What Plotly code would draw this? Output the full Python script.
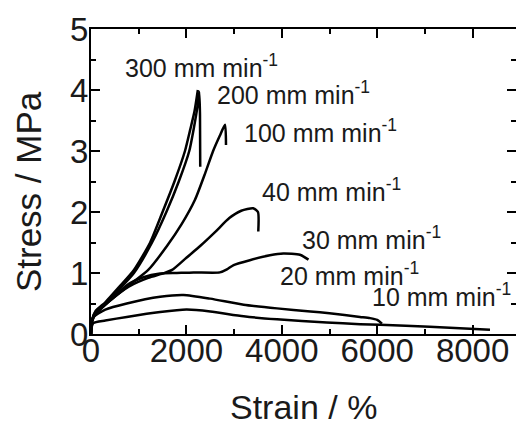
import plotly.graph_objects as go

# strain (%) / stress (MPa) for each crosshead speed
s300_x = [0, 20, 100, 300, 600, 900, 1240, 1500, 1750, 1970, 2080, 2170, 2240]
s300_y = [0, 0.22, 0.38, 0.52, 0.78, 1.05, 1.5, 2.0, 2.5, 3.0, 3.35, 3.65, 4.0]

s200_x = [0, 20, 100, 300, 600, 900, 1280, 1580, 1840, 2060, 2150, 2230, 2270, 2285, 2290]
s200_y = [0, 0.22, 0.37, 0.5, 0.74, 1.0, 1.5, 2.0, 2.5, 3.0, 3.35, 3.72, 3.97, 3.6, 2.74]

s100_x = [0, 20, 100, 400, 800, 1200, 1600, 1900, 2180, 2400, 2560, 2700, 2810, 2830]
s100_y = [0, 0.22, 0.36, 0.55, 0.8, 1.05, 1.45, 1.8, 2.2, 2.65, 3.0, 3.25, 3.43, 3.1]

s40_x = [0, 20, 100, 400, 800, 1200, 1500, 1700, 2000, 2300, 2600, 2900, 3150, 3400, 3500, 3507]
s40_y = [0, 0.2, 0.33, 0.55, 0.78, 0.92, 0.99, 1.05, 1.25, 1.45, 1.67, 1.9, 2.02, 2.06, 2.0, 1.68]

s30_x = [0, 20, 100, 400, 750, 1100, 1450, 1800, 2150, 2700, 2850, 2990, 3330, 3750, 4030, 4380, 4560]
s30_y = [0, 0.2, 0.33, 0.55, 0.8, 0.93, 0.99, 1.0, 1.01, 1.01, 1.06, 1.13, 1.21, 1.29, 1.32, 1.30, 1.22]

s20_x = [0, 15, 50, 300, 750, 1450, 1940, 2500, 3200, 3900, 4600, 5000, 5640, 5850, 6000, 6100]
s20_y = [0, 0.18, 0.28, 0.4, 0.5, 0.61, 0.64, 0.58, 0.48, 0.42, 0.37, 0.34, 0.28, 0.26, 0.23, 0.17]

s10_x = [0, 15, 50, 300, 750, 1450, 2000, 2500, 3200, 3900, 4940, 5640, 6060, 7100, 8365]
s10_y = [0, 0.12, 0.18, 0.22, 0.28, 0.36, 0.40, 0.37, 0.29, 0.24, 0.19, 0.16, 0.15, 0.12, 0.07]

series = [
    (s300_x, s300_y), (s200_x, s200_y), (s100_x, s100_y), (s40_x, s40_y),
    (s30_x, s30_y), (s20_x, s20_y), (s10_x, s10_y),
]

label_text = ["300", "200", "100", "40", "30", "20", "10"]
label_x = [671, 2600, 3160, 3543, 4382, 3927, 5849]
label_y = [4.39, 3.95, 3.32, 2.36, 1.57, 0.98, 0.64]

FONT = "Liberation Sans, Arial"
INK = "#1a1a1a"

fig = go.Figure()
for xs, ys in series:
    fig.add_trace(go.Scatter(x=xs, y=ys, mode="lines",
                             line=dict(color="black", width=2.5, shape="spline", smoothing=0.6),
                             showlegend=False, hoverinfo="skip"))

for t, lx, ly in zip(label_text, label_x, label_y):
    fig.add_annotation(x=lx, y=ly, xref="x", yref="y", text=f"{t} mm min<sup>-1</sup>",
                       showarrow=False, xanchor="left", yanchor="middle",
                       font=dict(family=FONT, size=25, color=INK))

# axis titles as annotations for exact placement
fig.add_annotation(x=-0.147, y=0.467, xref="paper", yref="paper", text="Stress / MPa",
                   textangle=-90, showarrow=False, xanchor="center", yanchor="middle",
                   font=dict(family=FONT, size=35, color=INK))
fig.add_annotation(x=0.5, y=-0.239, xref="paper", yref="paper", text="Strain / %",
                   showarrow=False, xanchor="center", yanchor="middle",
                   font=dict(family=FONT, size=34, color=INK))

axis_common = dict(
    showline=True, linecolor="black", linewidth=2, mirror="ticks",
    ticks="inside", ticklen=9, tickwidth=2, tickcolor="black",
    showgrid=False, zeroline=False, automargin=False,
    tickfont=dict(family=FONT, size=33, color=INK),
)

fig.update_xaxes(range=[0, 8910], tick0=0, dtick=2000, ticklabelstandoff=-14,
                 minor=dict(dtick=1000, ticks="inside", ticklen=5, tickwidth=2, tickcolor="black"),
                 **axis_common)
fig.update_yaxes(range=[0, 5], tick0=0, dtick=1, ticklabelstandoff=-6,
                 minor=dict(dtick=0.5, ticks="inside", ticklen=5, tickwidth=2, tickcolor="black"),
                 **axis_common)

fig.update_layout(width=516, height=422, margin=dict(l=91, r=0, t=29, b=88),
                  plot_bgcolor="white", paper_bgcolor="white")

fig.write_html("out.html")
